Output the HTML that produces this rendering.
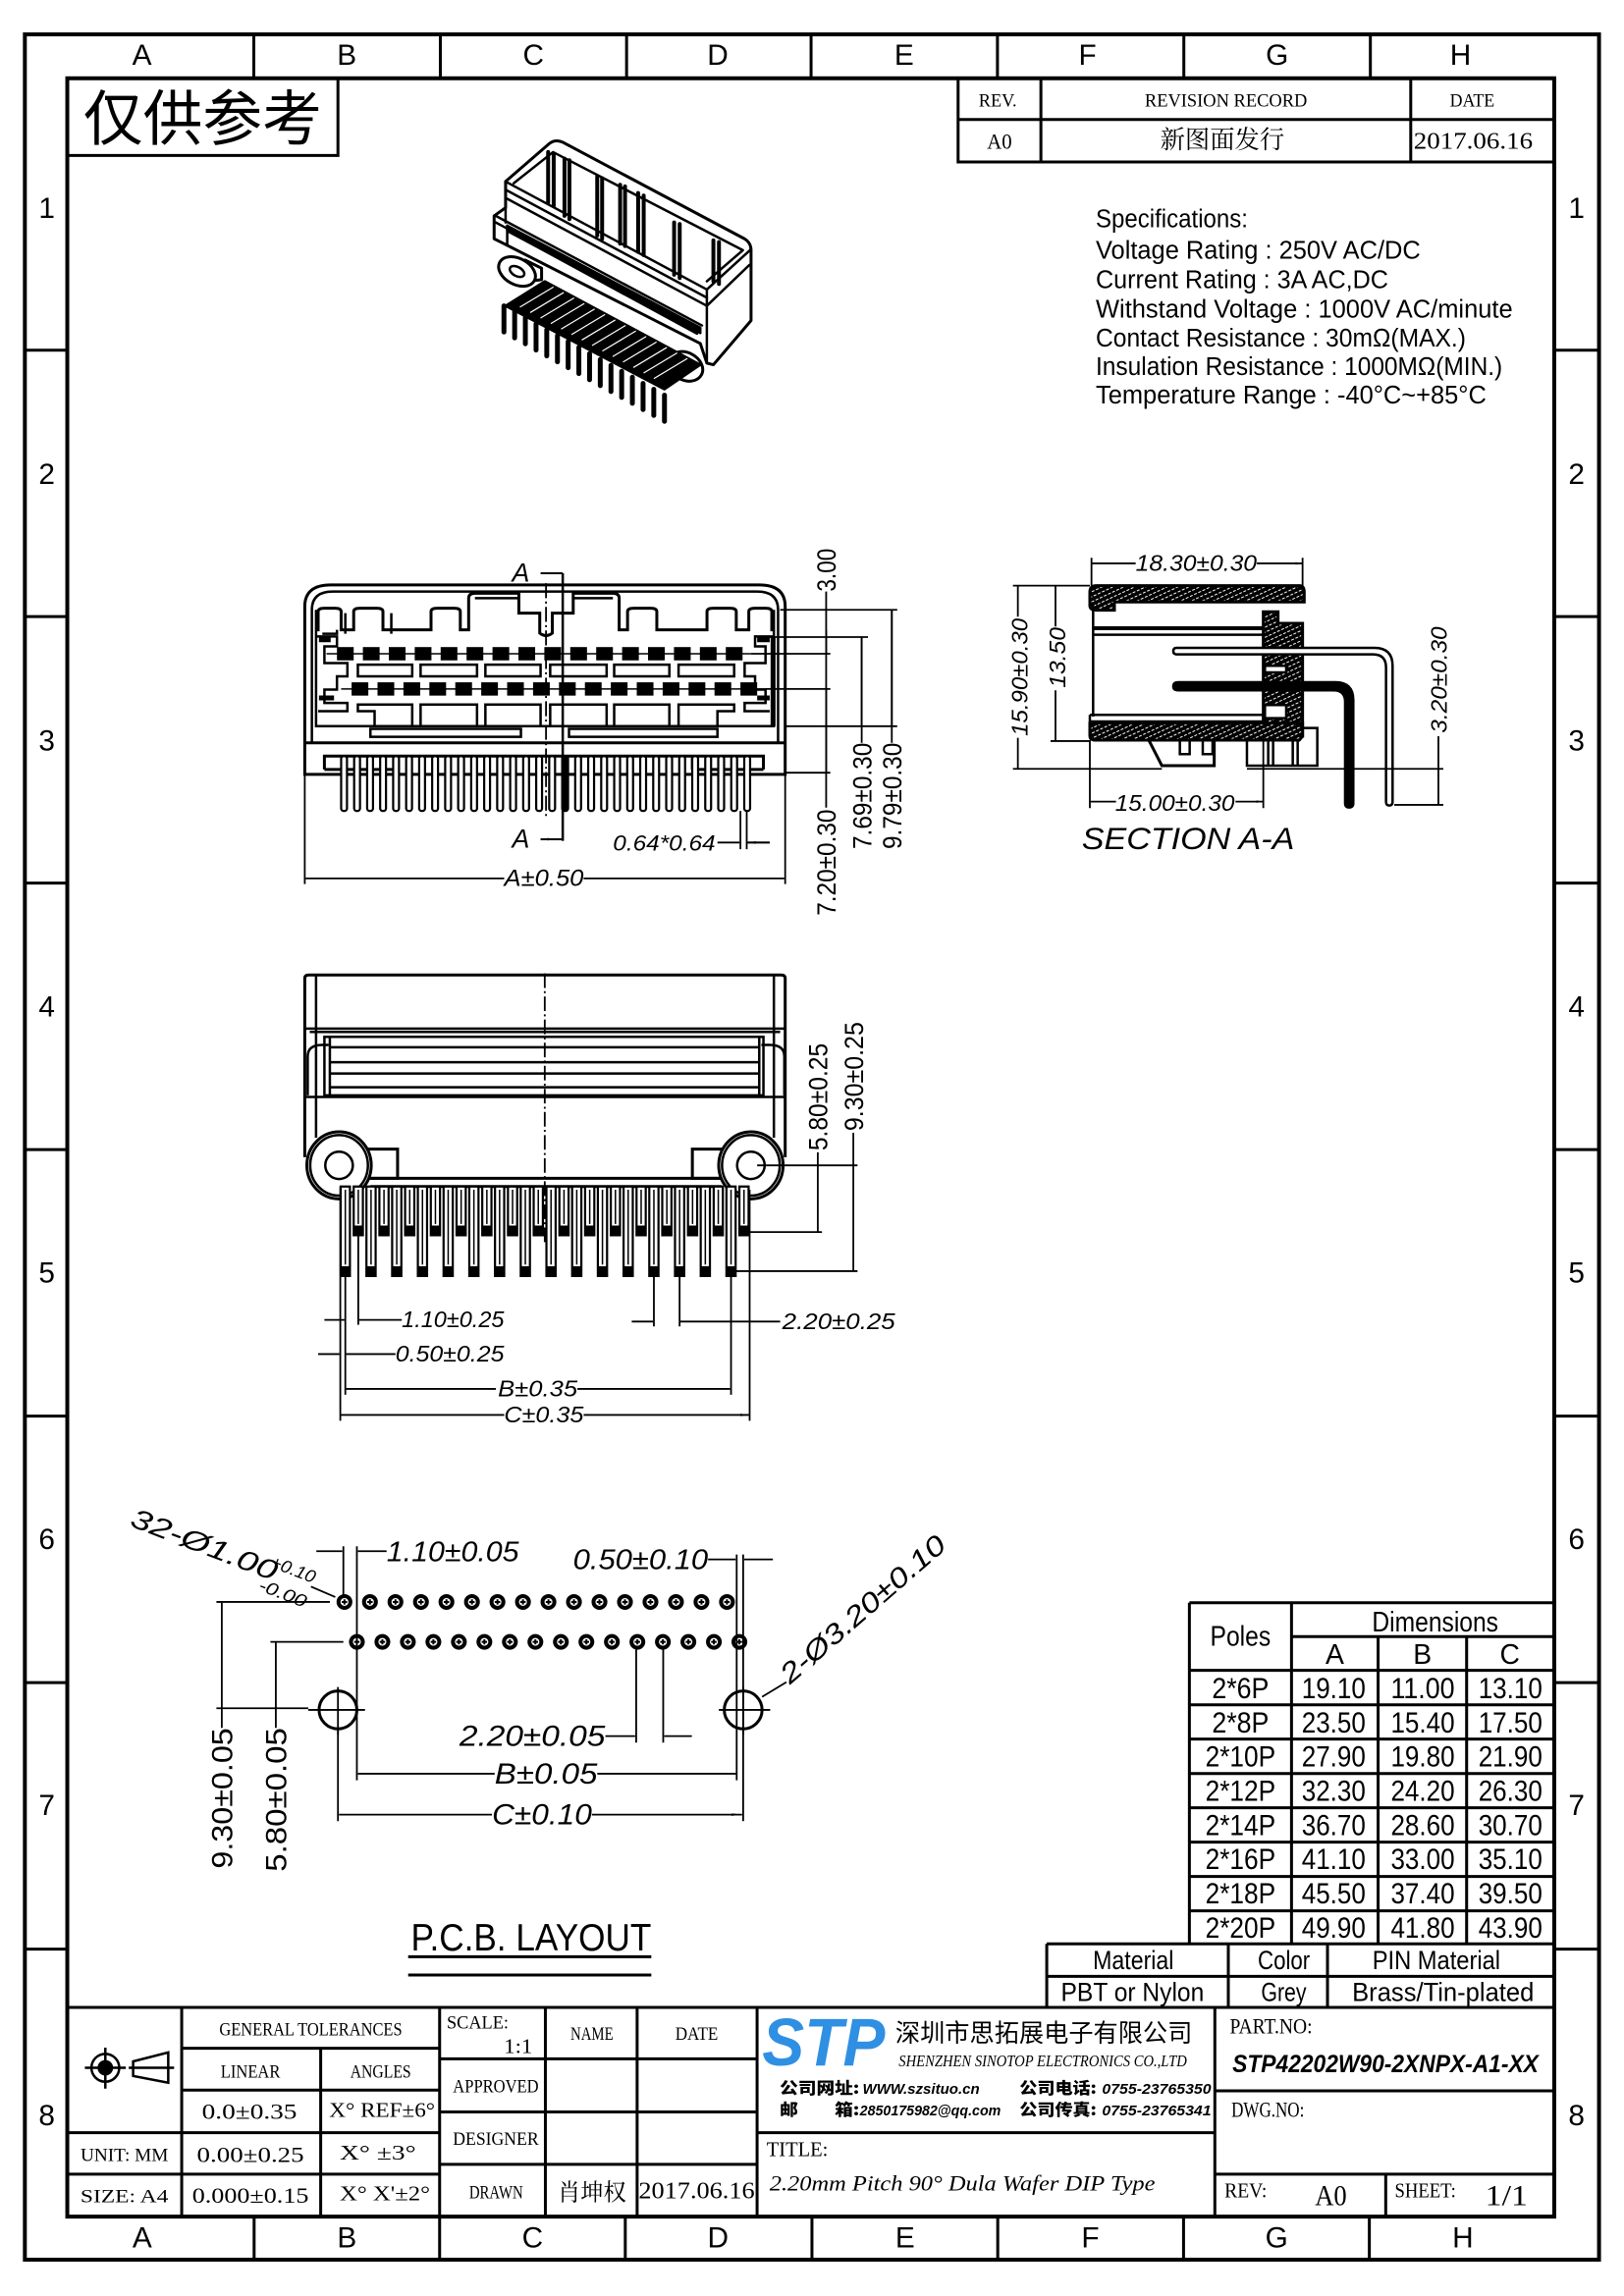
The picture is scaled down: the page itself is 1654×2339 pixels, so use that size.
<!DOCTYPE html>
<html><head><meta charset="utf-8"><title>STP42202W90-2XNPX-A1-XX</title>
<style>
html,body{margin:0;padding:0;background:#fff}
svg{display:block}
.ns,.ns *{vector-effect:non-scaling-stroke}
text{font-family:"Liberation Sans","Noto Sans CJK SC",sans-serif;fill:#000;stroke:none}
.it,.it text{font-style:italic}
.sf,.sf text,text.sf{font-family:"Liberation Serif","Noto Serif CJK SC",serif}
.cjk,text.cjk{font-family:"Noto Sans CJK SC","WenQuanYi Zen Hei",sans-serif}
</style></head><body>
<svg xmlns="http://www.w3.org/2000/svg" width="1654" height="2339" viewBox="0 0 1110.07 1569.8">
<defs>
<marker id="ar" viewBox="0 0 20 8" refX="20" refY="4" markerWidth="20" markerHeight="8" markerUnits="userSpaceOnUse" orient="auto"><path d="M0,0L20,4L0,8z" fill="#000"/></marker>
<pattern id="hatch" patternUnits="userSpaceOnUse" width="14" height="14" patternTransform="rotate(-25)"><rect width="14" height="14" fill="#000"/><path d="M0,7H9" stroke="#fff" stroke-width="3"/></pattern>
</defs>
<rect width="1110.07" height="1569.8" fill="#fff"/>

<!-- FRAME -->
<g class="ns" fill="none" stroke="#000">
<rect x="17" y="23.5" width="1076" height="1521.5" stroke-width="4"/>
<rect x="46" y="53.5" width="1016.4" height="1462" stroke-width="4"/>
<path stroke-width="3" d="M173.5,23.5V53.5M301,23.5V53.5M428.3,23.5V53.5M554.4,23.5V53.5M681.8,23.5V53.5M809.2,23.5V53.5M936.7,23.5V53.5M173.7,1515.5V1545M300.5,1515.5V1545M427.4,1515.5V1545M555,1515.5V1545M682,1515.5V1545M809,1515.5V1545M936,1515.5V1545M17,239.4H46M17,421.6H46M17,603.8H46M17,786H46M17,968.2H46M17,1150.4H46M17,1332.6H46M1062.4,239.4H1093M1062.4,421.6H1093M1062.4,603.8H1093M1062.4,786H1093M1062.4,968.2H1093M1062.4,1150.4H1093M1062.4,1332.6H1093"/>
</g>
<g font-size="20" text-anchor="middle">
<text x="97" y="44.2">A</text><text x="237" y="44.2">B</text><text x="364.6" y="44.2">C</text><text x="490.6" y="44.2">D</text><text x="618" y="44.2">E</text><text x="743.4" y="44.2">F</text><text x="873" y="44.2">G</text><text x="998.3" y="44.2">H</text>
<text x="97.2" y="1536.5">A</text><text x="237.1" y="1536.5">B</text><text x="364" y="1536.5">C</text><text x="490.8" y="1536.5">D</text><text x="618.7" y="1536.5">E</text><text x="745.3" y="1536.5">F</text><text x="872.6" y="1536.5">G</text><text x="999.9" y="1536.5">H</text>
<text x="32" y="149">1</text><text x="32" y="331">2</text><text x="32" y="513">3</text><text x="32" y="695">4</text><text x="32" y="877">5</text><text x="32" y="1059">6</text><text x="32" y="1241">7</text><text x="32" y="1453">8</text>
<text x="1077.6" y="149">1</text><text x="1077.6" y="331">2</text><text x="1077.6" y="513">3</text><text x="1077.6" y="695">4</text><text x="1077.6" y="877">5</text><text x="1077.6" y="1059">6</text><text x="1077.6" y="1241">7</text><text x="1077.6" y="1453">8</text>
</g>

<!-- 仅供参考 -->
<rect class="ns" x="46" y="53.5" width="185" height="52.8" fill="none" stroke="#000" stroke-width="3"/>
<text class="cjk" x="57" y="95.5" font-size="41" textLength="163" lengthAdjust="spacingAndGlyphs">仅供参考</text>

<!-- Revision table -->
<path class="ns" fill="none" stroke="#000" stroke-width="3" d="M654.9,53.5V110.7H1062.4M654.9,81.7H1062.4M711.5,53.5V110.7M964.3,53.5V110.7"/>
<g class="sf" text-anchor="middle">
<text x="682" y="72.7" font-size="13" textLength="26" lengthAdjust="spacingAndGlyphs">REV.</text>
<text x="838" y="72.7" font-size="13" textLength="111" lengthAdjust="spacingAndGlyphs">REVISION RECORD</text>
<text x="1006.3" y="72.7" font-size="13" textLength="30.6" lengthAdjust="spacingAndGlyphs">DATE</text>
<text x="683.2" y="101.8" font-size="15" textLength="17" lengthAdjust="spacingAndGlyphs">A0</text>
<text x="835.5" y="101.5" font-size="17" textLength="85" lengthAdjust="spacingAndGlyphs">新图面发行</text>
<text x="1007" y="101.8" font-size="16" textLength="81.4" lengthAdjust="spacingAndGlyphs">2017.06.16</text>
</g>

<!-- Specifications -->
<g font-size="17.5">
<text x="749" y="155.5" textLength="104" lengthAdjust="spacingAndGlyphs">Specifications:</text>
<text x="749" y="176.7" textLength="222" lengthAdjust="spacingAndGlyphs">Voltage Rating : 250V AC/DC</text>
<text x="749" y="196.9" textLength="200" lengthAdjust="spacingAndGlyphs">Current Rating : 3A AC,DC</text>
<text x="749" y="217" textLength="285" lengthAdjust="spacingAndGlyphs">Withstand Voltage : 1000V AC/minute</text>
<text x="749" y="237" textLength="253" lengthAdjust="spacingAndGlyphs">Contact Resistance : 30mΩ(MAX.)</text>
<text x="749" y="256.5" textLength="278" lengthAdjust="spacingAndGlyphs">Insulation Resistance : 1000MΩ(MIN.)</text>
<text x="749" y="276" textLength="267" lengthAdjust="spacingAndGlyphs">Temperature Range : -40°C~+85°C</text>
</g>

<!-- 3D view -->
<g class="ns" transform="matrix(0.2237,0,0,0.2237,322.1,87.2)" fill="none" stroke="#000" stroke-width="2.5" stroke-linecap="round" stroke-linejoin="round">
<path fill="#fff" stroke-width="3" d="M105,165 L240,48 Q258,35 280,45 L835,340 Q855,352 855,375 L855,590 L740,725 L720,720 L700,660 L110,360 L70,340 L70,270 L105,245 Z"/>
<path d="M105,165 L720,495 L855,372"/>
<path d="M105,190 L720,520 M105,215 L720,545 M105,165 V290"/>
<path d="M130,170 L250,75 L830,375 L720,470"/>
<path d="M720,495 V720 M720,545 L850,420"/>
<path d="M75,270 L705,605 M75,290 L700,625 M110,315 L690,630 M70,270 V340 L110,360 M110,300 V360"/>
<path fill="#000" d="M110,300 L700,612 L700,628 L110,316 Z"/>
<path stroke-width="4" d="M235,75V230M252,80V240M285,95V270M300,100V280M385,150V330M400,155V340M455,175V355M470,180V362M510,200V380M527,208V390M620,290V450M637,295V460M740,345V470M757,350V478"/>
<path fill="#fff" stroke-width="3" d="M165,405 L215,430 L215,465 L175,470 Z"/>
<ellipse cx="140" cy="440" rx="60" ry="40" transform="rotate(28 140 440)" fill="#fff" stroke-width="3"/>
<ellipse cx="140" cy="440" rx="24" ry="14" transform="rotate(28 140 440)"/>
<ellipse cx="655" cy="730" rx="55" ry="42" transform="rotate(28 655 730)" fill="#fff" stroke-width="3"/>
<ellipse cx="655" cy="730" rx="22" ry="14" transform="rotate(28 655 730)"/>
<path fill="#000" d="M105,545 L225,470 L700,725 L590,800 Z"/>
<path stroke="#fff" stroke-width="1.2" d="M250,488L150,548M281.5,504.8L181.5,564.8M313,521.6L213,581.6M344.5,538.4L244.5,598.4M376,555.2L276,615.2M407.5,572L307.5,632M439,588.8L339,648.8M470.5,605.6L370.5,665.6M502,622.4L402,682.4M533.5,639.2L433.5,699.2M565,656L465,716M596.5,672.8L496.5,732.8M628,689.6L528,749.6M659.5,706.4L559.5,766.4"/>
<path stroke-width="5" d="M100,545V625M132.7,563V643M165.4,581V661M198.1,600V680M230.8,618V698M263.5,636V716M296.2,654V734M328.9,672V752M361.6,691V771M394.3,709V789M427,727V807M459.7,745V825M492.4,763V843M525.1,782V862M557.8,800V880M590.5,818V898"/>
</g>

<!-- FRONT VIEW -->
<g class="ns" transform="matrix(0.2858,0,0,0.2273,194.6,362.4)" fill="none" stroke="#000" stroke-width="2.5">
<path stroke-width="3" d="M48,735 V230 Q48,165 110,165 H1135 Q1197,165 1197,230 V735 Z"/>
<path d="M65,640 V240 Q65,185 115,185 H1130 Q1180,185 1180,240 V640"/>
<path stroke-width="3" d="M48,640 H1197"/>
<path d="M75,240 V590 H1170 V240"/>
<path stroke-width="3" d="M75,300 H80 V245 Q80,235 95,235 H120 Q135,235 135,245 V300 H165 V245 Q165,235 180,235 H220 Q235,235 235,245 V300 H350 V245 Q350,235 365,235 H405 Q420,235 420,245 V300 H440 V205 Q440,190 455,190 H560 V250 H610 V310 Q625,325 640,310 V250 H690 V190 H785 Q800,190 800,205 V300 H820 V245 Q820,235 835,235 H875 Q890,235 890,245 V300 H1010 V245 Q1010,235 1025,235 H1065 Q1080,235 1080,245 V300 H1110 V245 Q1110,235 1125,235 H1150 Q1165,235 1165,245 V300 H1170"/>
<path d="M90,312 H125 V300 M145,312 V250 M255,312 V250 M560,190 V250 M690,190 V250 M455,205 H560 M690,205 H785"/>
<path d="M75,320 H125 V350 H95 V400 H150 V440 H125 V480 H95 V520 H150 V545 H80"/>
<path d="M1170,320 H1125 V350 H1150 V400 H1100 V440 H1125 V480 H1150 V520 H1100 V545 H1160"/>
<path stroke-width="5" d="M1168,320 V590 M82,330 H110 M82,505 H118 M1130,330 H1160 M1130,505 H1160"/>
<path stroke-width="1.5" d="M100,372H1115M135,478H1150"/>
<g fill="#000" stroke="none">
<rect x="125" y="352" width="40" height="40"/><rect x="187" y="352" width="40" height="40"/><rect x="249" y="352" width="40" height="40"/><rect x="311" y="352" width="40" height="40"/><rect x="373" y="352" width="40" height="40"/><rect x="435" y="352" width="40" height="40"/><rect x="497" y="352" width="40" height="40"/><rect x="559" y="352" width="40" height="40"/><rect x="621" y="352" width="40" height="40"/><rect x="683" y="352" width="40" height="40"/><rect x="745" y="352" width="40" height="40"/><rect x="807" y="352" width="40" height="40"/><rect x="869" y="352" width="40" height="40"/><rect x="931" y="352" width="40" height="40"/><rect x="993" y="352" width="40" height="40"/><rect x="1055" y="352" width="40" height="40"/>
<rect x="160" y="458" width="40" height="40"/><rect x="222" y="458" width="40" height="40"/><rect x="284" y="458" width="40" height="40"/><rect x="346" y="458" width="40" height="40"/><rect x="408" y="458" width="40" height="40"/><rect x="470" y="458" width="40" height="40"/><rect x="532" y="458" width="40" height="40"/><rect x="594" y="458" width="40" height="40"/><rect x="656" y="458" width="40" height="40"/><rect x="718" y="458" width="40" height="40"/><rect x="780" y="458" width="40" height="40"/><rect x="842" y="458" width="40" height="40"/><rect x="904" y="458" width="40" height="40"/><rect x="966" y="458" width="40" height="40"/><rect x="1028" y="458" width="40" height="40"/><rect x="1090" y="458" width="40" height="40"/>
</g>
<rect x="175" y="405" width="130" height="35"/><rect x="325" y="405" width="135" height="35"/><rect x="480" y="405" width="132" height="35"/><rect x="635" y="405" width="135" height="35"/><rect x="788" y="405" width="132" height="35"/><rect x="942" y="405" width="133" height="35"/>
<rect x="325" y="525" width="135" height="65"/><rect x="480" y="525" width="132" height="65"/><rect x="635" y="525" width="135" height="65"/><rect x="788" y="525" width="132" height="65"/>
<path d="M175,525 H305 V590 H215 V545 H175 Z M942,525 H1075 V545 H1035 V590 H942 Z"/>
<rect x="205" y="598" width="360" height="24"/><rect x="680" y="598" width="355" height="24"/>
<path stroke-width="3" d="M95,720 V680 H1145 V720 M210,680 V720 M1040,680 V720 M270,680 V720 M975,680 V720 M95,720 H270 M975,720 H1145"/>
<g fill="#fff" stroke-width="2.2">
<rect x="135" y="680" width="14" height="165" rx="7"/><rect x="166.1" y="680" width="14" height="165" rx="7"/><rect x="197.2" y="680" width="14" height="165" rx="7"/><rect x="228.3" y="680" width="14" height="165" rx="7"/><rect x="259.4" y="680" width="14" height="165" rx="7"/><rect x="290.5" y="680" width="14" height="165" rx="7"/><rect x="321.6" y="680" width="14" height="165" rx="7"/><rect x="352.7" y="680" width="14" height="165" rx="7"/><rect x="383.8" y="680" width="14" height="165" rx="7"/><rect x="414.9" y="680" width="14" height="165" rx="7"/><rect x="446" y="680" width="14" height="165" rx="7"/><rect x="477.1" y="680" width="14" height="165" rx="7"/><rect x="508.2" y="680" width="14" height="165" rx="7"/><rect x="539.3" y="680" width="14" height="165" rx="7"/><rect x="570.4" y="680" width="14" height="165" rx="7"/><rect x="601.5" y="680" width="14" height="165" rx="7"/><rect x="632.6" y="680" width="14" height="165" rx="7"/><rect x="663.7" y="680" width="14" height="165" rx="7" fill="#000"/><rect x="694.8" y="680" width="14" height="165" rx="7"/><rect x="725.9" y="680" width="14" height="165" rx="7"/><rect x="757" y="680" width="14" height="165" rx="7"/><rect x="788.1" y="680" width="14" height="165" rx="7"/><rect x="819.2" y="680" width="14" height="165" rx="7"/><rect x="850.3" y="680" width="14" height="165" rx="7"/><rect x="881.4" y="680" width="14" height="165" rx="7"/><rect x="912.5" y="680" width="14" height="165" rx="7"/><rect x="943.6" y="680" width="14" height="165" rx="7"/><rect x="974.7" y="680" width="14" height="165" rx="7"/><rect x="1005.8" y="680" width="14" height="165" rx="7"/><rect x="1036.9" y="680" width="14" height="165" rx="7"/><rect x="1068" y="680" width="14" height="165" rx="7"/><rect x="1099.1" y="680" width="14" height="165" rx="7"/>
</g>
<path stroke-width="1.8" d="M625,160V205M625,215V221M625,231V276M625,286V292M625,302V347M625,357V363M625,373V418M625,428V434M625,444V489M625,499V505M625,515V560M625,570V576M625,586V631M625,641V647M625,657V702M625,712V718M625,728V773M625,783V789M625,799V844M625,854V860"/>
<path stroke-width="2.5" d="M665,130V935"/>
<path stroke-width="2" marker-end="url(#ar)" d="M665,130H612M665,930H612"/>
<path stroke-width="1.8" d="M1185,240H1465M1140,322H1395M1115,372H1305M1150,478H1305M1195,590H1465M1197,730H1305M1295,185V835M1380,322V640M1452,240V640M48,735V1065M1197,735V1065M1090,845V960M1105,845V960"/>
<path stroke-width="1.8" marker-end="url(#ar)" d="M1295,300V372M1295,600V478M1295,600V730M1380,450V322M1380,450V590M1452,420V240M1452,420V590M525,1048H50M715,1048H1195M1035,940H1088M1160,940H1107"/>
<path stroke-width="1.8" d="M1107,940H1160"/>
</g>
<text class="it" x="356" y="397.6" font-size="18" text-anchor="middle">A</text>
<text class="it" x="356" y="579.5" font-size="18" text-anchor="middle">A</text>
<text class="it" x="371.8" y="605.6" font-size="16" text-anchor="middle" textLength="54.3" lengthAdjust="spacingAndGlyphs">A±0.50</text>
<text class="it" x="419" y="581.7" font-size="15" textLength="70" lengthAdjust="spacingAndGlyphs">0.64*0.64</text>
<g font-size="18" text-anchor="middle">
<text transform="translate(564.7,389.7) rotate(-90)" y="6.5" textLength="29.5" lengthAdjust="spacingAndGlyphs">3.00</text>
<text transform="translate(564.7,589.7) rotate(-90)" y="6.5" textLength="72.7" lengthAdjust="spacingAndGlyphs">7.20±0.30</text>
<text transform="translate(589,544.2) rotate(-90)" y="6.5" textLength="72.7" lengthAdjust="spacingAndGlyphs">7.69±0.30</text>
<text transform="translate(609.6,544.2) rotate(-90)" y="6.5" textLength="72.7" lengthAdjust="spacingAndGlyphs">9.79±0.30</text>
</g>

<!-- SECTION A-A -->
<g class="ns" transform="matrix(0.2237,0,0,0.2237,677.85,369.1)" fill="none" stroke="#000" stroke-width="2.5">
<path stroke-width="1.8" d="M305,55V140M950,55V140"/>
<path stroke-width="1.8" marker-end="url(#ar)" d="M440,72H307M810,72H948"/>
<path fill="url(#hatch)" stroke-width="3" d="M300,160 Q300,140 320,140 H940 Q955,140 955,160 V190 H375 V215 H320 Q300,215 300,200 Z"/>
<path d="M310,190V540"/>
<path stroke-width="4" d="M310,270H830"/>
<path d="M310,290H830"/>
<path fill="url(#hatch)" stroke-width="3" d="M830,220 H875 V255 H950 V600 H830 Z"/>
<rect x="835" y="385" width="65" height="20" fill="#fff"/>
<rect x="835" y="505" width="65" height="40" fill="#fff"/>
<path d="M300,535H830M300,555H830M300,535V555"/>
<path fill="url(#hatch)" stroke-width="3" d="M300,560 H950 V600 L940,612 H315 Q300,612 300,598 Z"/>
<path stroke-width="3" d="M480,612 L520,690 H680 V612"/>
<path d="M575,612V655H605V612M645,612V655H675V612"/>
<path d="M780,612 V690 H995 V575 H950 M845,612V690M860,612V690M920,612V690M935,612V690"/>
<path fill="#fff" stroke-width="2.5" d="M555,340 Q555,330 565,330 L1170,330 Q1225,330 1225,385 L1225,800 Q1225,812 1215,812 Q1205,812 1205,800 L1205,390 Q1205,350 1165,350 L565,350 Q555,350 555,340 Z"/>
<path fill="#000" d="M570,435 L1050,435 Q1105,435 1105,490 L1105,805 Q1105,818 1092,818 Q1080,818 1080,805 L1080,495 Q1080,460 1045,460 L570,460 Q555,460 555,448 Q555,435 570,435 Z"/>
<path stroke-width="1.8" d="M65,140H300M65,700H520M780,700H1380M180,615H300M1230,810H1380M1365,600V700M300,612V820M830,600V820"/>
<path stroke-width="1.8" marker-end="url(#ar)" d="M80,235V142M80,605V698M195,265V142M195,460V613M1365,755V702M1365,755V808M380,800H302M745,800H828"/>
</g>
<g class="it">
<text x="817.7" y="390.4" font-size="15.5" text-anchor="middle" textLength="82.8" lengthAdjust="spacingAndGlyphs">18.30±0.30</text>
<text transform="translate(696.9,463) rotate(-90)" y="5.6" font-size="15.5" text-anchor="middle" textLength="80.5" lengthAdjust="spacingAndGlyphs">15.90±0.30</text>
<text transform="translate(722.6,449.6) rotate(-90)" y="5.6" font-size="15.5" text-anchor="middle" textLength="41.4" lengthAdjust="spacingAndGlyphs">13.50</text>
<text transform="translate(983.2,464.8) rotate(-90)" y="5.6" font-size="15.5" text-anchor="middle" textLength="72.7" lengthAdjust="spacingAndGlyphs">3.20±0.30</text>
<text x="803.1" y="554.3" font-size="15.5" text-anchor="middle" textLength="81.7" lengthAdjust="spacingAndGlyphs">15.00±0.30</text>
<text x="739.4" y="580.5" font-size="21" textLength="145.4" lengthAdjust="spacingAndGlyphs">SECTION A-A</text>
</g>

<!-- BOTTOM VIEW -->
<g class="ns" transform="matrix(0.2858,0,0,0.2225,194.6,657.7)" fill="none" stroke="#000" stroke-width="2.5">
<path stroke-width="3" d="M48,600 V50 Q48,40 58,40 H1187 Q1197,40 1197,50 V600"/>
<path d="M75,42V540M1170,42V540"/>
<path d="M48,205H1197M60,215H1185"/>
<rect x="95" y="230" width="1050" height="180"/>
<path d="M108,230V410M1135,230V410M108,262H1135M108,308H1135M108,343H1135M108,385H1135"/>
<path d="M55,410V290Q55,255 90,255H105M1195,410V290Q1195,255 1160,255H1140"/>
<path d="M48,415H1197"/>
<path fill="#fff" stroke-width="3" d="M160,575H270V665H160Z"/>
<path fill="#fff" stroke-width="3" d="M1085,575H975V665H1085Z"/>
<ellipse cx="130" cy="625" rx="77" ry="103" fill="#fff" stroke-width="3"/>
<ellipse cx="130" cy="625" rx="69" ry="93"/>
<ellipse cx="130" cy="625" rx="33" ry="42"/>
<ellipse cx="1115" cy="625" rx="77" ry="103" fill="#fff" stroke-width="3"/>
<ellipse cx="1115" cy="625" rx="69" ry="93"/>
<ellipse cx="1115" cy="625" rx="33" ry="42"/>
<path stroke-width="3" d="M205,665H1045M205,690H1045"/>
<g fill="#fff" stroke-width="2.2">
<rect x="134" y="690" width="22" height="275"/><rect x="195.5" y="690" width="22" height="275"/><rect x="257" y="690" width="22" height="275"/><rect x="318.5" y="690" width="22" height="275"/><rect x="380" y="690" width="22" height="275"/><rect x="441.5" y="690" width="22" height="275"/><rect x="503" y="690" width="22" height="275"/><rect x="564.5" y="690" width="22" height="275"/><rect x="626" y="690" width="22" height="275"/><rect x="687.5" y="690" width="22" height="275"/><rect x="749" y="690" width="22" height="275"/><rect x="810.5" y="690" width="22" height="275"/><rect x="872" y="690" width="22" height="275"/><rect x="933.5" y="690" width="22" height="275"/><rect x="995" y="690" width="22" height="275"/><rect x="1056.5" y="690" width="22" height="275"/>
<rect x="165" y="690" width="22" height="150"/><rect x="226.5" y="690" width="22" height="150"/><rect x="288" y="690" width="22" height="150"/><rect x="349.5" y="690" width="22" height="150"/><rect x="411" y="690" width="22" height="150"/><rect x="472.5" y="690" width="22" height="150"/><rect x="534" y="690" width="22" height="150"/><rect x="595.5" y="690" width="22" height="150"/><rect x="657" y="690" width="22" height="150"/><rect x="718.5" y="690" width="22" height="150"/><rect x="780" y="690" width="22" height="150"/><rect x="841.5" y="690" width="22" height="150"/><rect x="903" y="690" width="22" height="150"/><rect x="964.5" y="690" width="22" height="150"/><rect x="1026" y="690" width="22" height="150"/><rect x="1087.5" y="690" width="22" height="150"/>
</g>
<g fill="#000" stroke="none">
<rect x="134" y="935" width="22" height="30"/><rect x="195.5" y="935" width="22" height="30"/><rect x="257" y="935" width="22" height="30"/><rect x="318.5" y="935" width="22" height="30"/><rect x="380" y="935" width="22" height="30"/><rect x="441.5" y="935" width="22" height="30"/><rect x="503" y="935" width="22" height="30"/><rect x="564.5" y="935" width="22" height="30"/><rect x="626" y="935" width="22" height="30"/><rect x="687.5" y="935" width="22" height="30"/><rect x="749" y="935" width="22" height="30"/><rect x="810.5" y="935" width="22" height="30"/><rect x="872" y="935" width="22" height="30"/><rect x="933.5" y="935" width="22" height="30"/><rect x="995" y="935" width="22" height="30"/><rect x="1056.5" y="935" width="22" height="30"/>
<rect x="165" y="810" width="22" height="30"/><rect x="226.5" y="810" width="22" height="30"/><rect x="288" y="810" width="22" height="30"/><rect x="349.5" y="810" width="22" height="30"/><rect x="411" y="810" width="22" height="30"/><rect x="472.5" y="810" width="22" height="30"/><rect x="534" y="810" width="22" height="30"/><rect x="595.5" y="810" width="22" height="30"/><rect x="657" y="810" width="22" height="30"/><rect x="718.5" y="810" width="22" height="30"/><rect x="780" y="810" width="22" height="30"/><rect x="841.5" y="810" width="22" height="30"/><rect x="903" y="810" width="22" height="30"/><rect x="964.5" y="810" width="22" height="30"/><rect x="1026" y="810" width="22" height="30"/><rect x="1087.5" y="810" width="22" height="30"/>
</g>
<path stroke-width="1.5" d="M145,700V930M206.5,700V930M268,700V930M329.5,700V930M391,700V930M452.5,700V930M514,700V930M575.5,700V930M637,700V930M698.5,700V930M760,700V930M821.5,700V930M883,700V930M944.5,700V930M1006,700V930M1067.5,700V930M176,700V805M237.5,700V805M299,700V805M360.5,700V805M422,700V805M483.5,700V805M545,700V805M606.5,700V805M668,700V805M729.5,700V805M791,700V805M852.5,700V805M914,700V805M975.5,700V805M1037,700V805M1098.5,700V805"/>
<path stroke-width="1.8" d="M622,35V80M622,90V96M622,106V151M622,161V167M622,177V222M622,232V238M622,248V293M622,303V309M622,319V364M622,374V380M622,390V435M622,445V451M622,461V506M622,516V522M622,532V577M622,587V593M622,603V648M622,658V664M622,674V719M622,729V735M622,745V790M622,800V806M622,816V861"/>
<path stroke-width="1.8" d="M1130,625H1370M1110,830H1285M1080,950H1370M1275,585V627M1360,525V627M133,690V1410M145,965V1330M1067.5,965V1330M1112,700V1410M176,840V1115M883,965V1120M944.5,965V1120"/>
<path stroke-width="1.8" marker-end="url(#ar)" d="M1275,730V627M1275,730V828M1360,790V627M1360,790V948M95,1100H143M280,1100H178M80,1205H131M265,1205H147M830,1105H881M1185,1105H946M505,1312H147M700,1312H1065M525,1392H135M715,1392H1110"/>
</g>
<g font-size="18" text-anchor="middle">
<text transform="translate(559,750) rotate(-90)" y="6.5" textLength="73.4" lengthAdjust="spacingAndGlyphs">5.80±0.25</text>
<text transform="translate(583.3,736) rotate(-90)" y="6.5" textLength="74.5" lengthAdjust="spacingAndGlyphs">9.30±0.25</text>
</g>
<g class="it" font-size="15.5">
<text x="274.6" y="907.3" textLength="70" lengthAdjust="spacingAndGlyphs">1.10±0.25</text>
<text x="270.3" y="931" textLength="74.3" lengthAdjust="spacingAndGlyphs">0.50±0.25</text>
<text x="534.7" y="908.7" textLength="77.2" lengthAdjust="spacingAndGlyphs">2.20±0.25</text>
<text x="340.4" y="954.7" textLength="54.3" lengthAdjust="spacingAndGlyphs">B±0.35</text>
<text x="344.6" y="972.5" textLength="54.3" lengthAdjust="spacingAndGlyphs">C±0.35</text>
</g>

<!-- PCB LAYOUT -->
<g class="ns" transform="matrix(0.3693,0,0,0.2237,79.6,1024.8)" fill="none" stroke="#000" stroke-width="2.5">
<g fill="#fff" stroke-width="4">
<ellipse cx="422" cy="315" rx="11" ry="18"/><ellipse cx="469.2" cy="315" rx="11" ry="18"/><ellipse cx="516.4" cy="315" rx="11" ry="18"/><ellipse cx="563.6" cy="315" rx="11" ry="18"/><ellipse cx="610.8" cy="315" rx="11" ry="18"/><ellipse cx="658" cy="315" rx="11" ry="18"/><ellipse cx="705.2" cy="315" rx="11" ry="18"/><ellipse cx="752.4" cy="315" rx="11" ry="18"/><ellipse cx="799.6" cy="315" rx="11" ry="18"/><ellipse cx="846.8" cy="315" rx="11" ry="18"/><ellipse cx="894" cy="315" rx="11" ry="18"/><ellipse cx="941.2" cy="315" rx="11" ry="18"/><ellipse cx="988.4" cy="315" rx="11" ry="18"/><ellipse cx="1035.6" cy="315" rx="11" ry="18"/><ellipse cx="1082.8" cy="315" rx="11" ry="18"/><ellipse cx="1130" cy="315" rx="11" ry="18"/>
<ellipse cx="445" cy="437" rx="11" ry="18"/><ellipse cx="492.2" cy="437" rx="11" ry="18"/><ellipse cx="539.4" cy="437" rx="11" ry="18"/><ellipse cx="586.6" cy="437" rx="11" ry="18"/><ellipse cx="633.8" cy="437" rx="11" ry="18"/><ellipse cx="681" cy="437" rx="11" ry="18"/><ellipse cx="728.2" cy="437" rx="11" ry="18"/><ellipse cx="775.4" cy="437" rx="11" ry="18"/><ellipse cx="822.6" cy="437" rx="11" ry="18"/><ellipse cx="869.8" cy="437" rx="11" ry="18"/><ellipse cx="917" cy="437" rx="11" ry="18"/><ellipse cx="964.2" cy="437" rx="11" ry="18"/><ellipse cx="1011.4" cy="437" rx="11" ry="18"/><ellipse cx="1058.6" cy="437" rx="11" ry="18"/><ellipse cx="1105.8" cy="437" rx="11" ry="18"/><ellipse cx="1153" cy="437" rx="11" ry="18"/>
</g>
<path stroke-width="2" d="M417,315h10M422,307v16M464.2,315h10M469.2,307v16M511.4,315h10M516.4,307v16M558.6,315h10M563.6,307v16M605.8,315h10M610.8,307v16M653,315h10M658,307v16M700.2,315h10M705.2,307v16M747.4,315h10M752.4,307v16M794.6,315h10M799.6,307v16M841.8,315h10M846.8,307v16M889,315h10M894,307v16M936.2,315h10M941.2,307v16M983.4,315h10M988.4,307v16M1030.6,315h10M1035.6,307v16M1077.8,315h10M1082.8,307v16M1125,315h10M1130,307v16M440,437h10M445,429v16M487.2,437h10M492.2,429v16M534.4,437h10M539.4,429v16M581.6,437h10M586.6,429v16M628.8,437h10M633.8,429v16M676,437h10M681,429v16M723.2,437h10M728.2,429v16M770.4,437h10M775.4,429v16M817.6,437h10M822.6,429v16M864.8,437h10M869.8,429v16M912,437h10M917,429v16M959.2,437h10M964.2,429v16M1006.4,437h10M1011.4,429v16M1053.6,437h10M1058.6,429v16M1100.8,437h10M1105.8,429v16M1148,437h10M1153,429v16"/>
<ellipse cx="410" cy="645" rx="35" ry="58" stroke-width="3"/>
<ellipse cx="1160" cy="645" rx="35" ry="58" stroke-width="3"/>
<path stroke-width="1.8" d="M355,645H460M410,575V720M1115,645H1210M1160,575V720"/>
<path stroke-width="1.8" d="M420,145V300M445,145V860M1148,170V860M1160,170V985M185,315H395M185,640H355M195,640V700M285,437H420M295,640V700M962,460V745M1012,460V745M410,705V985"/>
<path stroke-width="1.8" marker-end="url(#ar)" d="M370,160H418M500,160H447M1095,185H1146M1215,185H1162M360,268L405,300M1240,560L1195,605M195,480V317M195,480V638M295,540V439M295,540V638M905,725H960M1065,725H1014M700,840H447M890,840H1148M695,965H412M880,965H1158"/>
</g>
<g class="it" font-size="19">
<text transform="translate(88,1043) rotate(21)" textLength="105.7" lengthAdjust="spacingAndGlyphs">32-Ø1.00</text>
<text transform="translate(184,1071) rotate(21)" font-size="12" textLength="32" lengthAdjust="spacingAndGlyphs">+0.10</text>
<text transform="translate(176,1087) rotate(21)" font-size="12" textLength="34" lengthAdjust="spacingAndGlyphs">-0.00</text>
<text x="264.3" y="1067.3" textLength="90.4" lengthAdjust="spacingAndGlyphs">1.10±0.05</text>
<text x="391.7" y="1072.9" textLength="92.3" lengthAdjust="spacingAndGlyphs">0.50±0.10</text>
<text transform="translate(540,1152) rotate(-41)" textLength="143" lengthAdjust="spacingAndGlyphs">2-Ø3.20±0.10</text>
<text x="314" y="1193.7" font-size="20" textLength="99.7" lengthAdjust="spacingAndGlyphs">2.20±0.05</text>
<text x="338.1" y="1219.4" font-size="20" textLength="70.2" lengthAdjust="spacingAndGlyphs">B±0.05</text>
<text x="336.3" y="1247.4" font-size="20" textLength="68.3" lengthAdjust="spacingAndGlyphs">C±0.10</text>
</g>
<g font-size="20" text-anchor="middle">
<text transform="translate(151.6,1229.5) rotate(-90)" y="7" textLength="96.2" lengthAdjust="spacingAndGlyphs">9.30±0.05</text>
<text transform="translate(188.5,1230.5) rotate(-90)" y="7" textLength="98.4" lengthAdjust="spacingAndGlyphs">5.80±0.05</text>
</g>
<text x="280.9" y="1333.5" font-size="26" textLength="164.3" lengthAdjust="spacingAndGlyphs">P.C.B. LAYOUT</text>
<path class="ns" stroke="#000" stroke-width="3" d="M279,1337.8H445.2M279,1350.3H445.2"/>

<!-- DIMENSIONS TABLE -->
<path class="ns" fill="none" stroke="#000" stroke-width="3" d="M813,1095.8H1062.4M882.8,1119H1062.4M813,1142H1062.4M813,1165.6H1062.4M813,1189H1062.4M813,1212.6H1062.4M813,1236H1062.4M813,1259.5H1062.4M813,1283H1062.4M813,1306.5H1062.4M715.5,1329H1062.4M715.5,1351.3H1062.4M813,1095.8V1329M882.8,1095.8V1329M942,1119V1329M1002.5,1119V1329M715.5,1329V1372.5M839.6,1329V1372.5M907.4,1329V1372.5"/>
<g text-anchor="middle">
<text x="847.9" y="1125.3" font-size="19" textLength="41.4" lengthAdjust="spacingAndGlyphs">Poles</text>
<text x="981" y="1115.3" font-size="19" textLength="86.3" lengthAdjust="spacingAndGlyphs">Dimensions</text>
<text x="912.4" y="1137.6" font-size="19">A</text><text x="972.3" y="1137.6" font-size="19">B</text><text x="1032" y="1137.6" font-size="19">C</text>
</g>
<g font-size="20" text-anchor="middle">
<text x="847.9" y="1161" textLength="39" lengthAdjust="spacingAndGlyphs">2*6P</text><text x="911.6" y="1161" textLength="43.7" lengthAdjust="spacingAndGlyphs">19.10</text><text x="972.5" y="1161" textLength="43.7" lengthAdjust="spacingAndGlyphs">11.00</text><text x="1032.4" y="1161" textLength="43.7" lengthAdjust="spacingAndGlyphs">13.10</text>
<text x="847.9" y="1184.4" textLength="39" lengthAdjust="spacingAndGlyphs">2*8P</text><text x="911.6" y="1184.4" textLength="43.7" lengthAdjust="spacingAndGlyphs">23.50</text><text x="972.5" y="1184.4" textLength="43.7" lengthAdjust="spacingAndGlyphs">15.40</text><text x="1032.4" y="1184.4" textLength="43.7" lengthAdjust="spacingAndGlyphs">17.50</text>
<text x="847.9" y="1207.8" textLength="48" lengthAdjust="spacingAndGlyphs">2*10P</text><text x="911.6" y="1207.8" textLength="43.7" lengthAdjust="spacingAndGlyphs">27.90</text><text x="972.5" y="1207.8" textLength="43.7" lengthAdjust="spacingAndGlyphs">19.80</text><text x="1032.4" y="1207.8" textLength="43.7" lengthAdjust="spacingAndGlyphs">21.90</text>
<text x="847.9" y="1231.2" textLength="48" lengthAdjust="spacingAndGlyphs">2*12P</text><text x="911.6" y="1231.2" textLength="43.7" lengthAdjust="spacingAndGlyphs">32.30</text><text x="972.5" y="1231.2" textLength="43.7" lengthAdjust="spacingAndGlyphs">24.20</text><text x="1032.4" y="1231.2" textLength="43.7" lengthAdjust="spacingAndGlyphs">26.30</text>
<text x="847.9" y="1254.6" textLength="48" lengthAdjust="spacingAndGlyphs">2*14P</text><text x="911.6" y="1254.6" textLength="43.7" lengthAdjust="spacingAndGlyphs">36.70</text><text x="972.5" y="1254.6" textLength="43.7" lengthAdjust="spacingAndGlyphs">28.60</text><text x="1032.4" y="1254.6" textLength="43.7" lengthAdjust="spacingAndGlyphs">30.70</text>
<text x="847.9" y="1278" textLength="48" lengthAdjust="spacingAndGlyphs">2*16P</text><text x="911.6" y="1278" textLength="43.7" lengthAdjust="spacingAndGlyphs">41.10</text><text x="972.5" y="1278" textLength="43.7" lengthAdjust="spacingAndGlyphs">33.00</text><text x="1032.4" y="1278" textLength="43.7" lengthAdjust="spacingAndGlyphs">35.10</text>
<text x="847.9" y="1301.4" textLength="48" lengthAdjust="spacingAndGlyphs">2*18P</text><text x="911.6" y="1301.4" textLength="43.7" lengthAdjust="spacingAndGlyphs">45.50</text><text x="972.5" y="1301.4" textLength="43.7" lengthAdjust="spacingAndGlyphs">37.40</text><text x="1032.4" y="1301.4" textLength="43.7" lengthAdjust="spacingAndGlyphs">39.50</text>
<text x="847.9" y="1324.8" textLength="48" lengthAdjust="spacingAndGlyphs">2*20P</text><text x="911.6" y="1324.8" textLength="43.7" lengthAdjust="spacingAndGlyphs">49.90</text><text x="972.5" y="1324.8" textLength="43.7" lengthAdjust="spacingAndGlyphs">41.80</text><text x="1032.4" y="1324.8" textLength="43.7" lengthAdjust="spacingAndGlyphs">43.90</text>
</g>
<g font-size="18" text-anchor="middle">
<text x="774.7" y="1346.3" textLength="55.2" lengthAdjust="spacingAndGlyphs">Material</text>
<text x="877.6" y="1346.3" textLength="35.7" lengthAdjust="spacingAndGlyphs">Color</text>
<text x="981.8" y="1346.3" textLength="87.5" lengthAdjust="spacingAndGlyphs">PIN Material</text>
<text x="774.1" y="1368" textLength="97.8" lengthAdjust="spacingAndGlyphs">PBT or Nylon</text>
<text x="877.5" y="1368" textLength="31" lengthAdjust="spacingAndGlyphs">Grey</text>
<text x="986.4" y="1368" textLength="124.3" lengthAdjust="spacingAndGlyphs">Brass/Tin-plated</text>
</g>

<!-- TITLE BLOCK -->
<path class="ns" fill="none" stroke="#000" stroke-width="3" d="M46,1372.5H1062.4M124.2,1372.5V1515.5M219.2,1400.4V1515.5M300.5,1372.5V1515.5M372.8,1372.5V1515.5M435.5,1372.5V1515.5M517.5,1372.5V1515.5M830.4,1372.5V1515.5M947.2,1486.5V1515.5M124.2,1400.4H300.5M124.2,1429H300.5M46,1458.1H300.5M46,1486.5H300.5M300.5,1407.6H517.5M300.5,1444H517.5M300.5,1479.8H517.5M517.5,1458.1H830.4M830.4,1429.5H1062.4M830.4,1486.5H1062.4"/>
<g class="ns" fill="none" stroke="#000" stroke-width="2.5">
<circle cx="72" cy="1413.8" r="9.5"/>
<circle cx="72" cy="1413.8" r="4.5" fill="#000"/>
<path d="M58,1413.8H86M72,1400V1428"/>
<path d="M91,1409.4V1419.4L115,1424V1403.3Z M88,1413.8H119"/>
</g>
<g class="sf" text-anchor="middle">
<text x="212.4" y="1391.5" font-size="13" textLength="125" lengthAdjust="spacingAndGlyphs">GENERAL TOLERANCES</text>
<text x="171.2" y="1420.6" font-size="13" textLength="40.7" lengthAdjust="spacingAndGlyphs">LINEAR</text>
<text x="260.2" y="1420.6" font-size="13" textLength="41.6" lengthAdjust="spacingAndGlyphs">ANGLES</text>
<text x="170.5" y="1448.5" font-size="15" textLength="65" lengthAdjust="spacingAndGlyphs">0.0±0.35</text>
<text x="261.2" y="1447.4" font-size="14" textLength="72.3" lengthAdjust="spacingAndGlyphs">X° REF±6°</text>
<text x="85" y="1477.6" font-size="13" textLength="60" lengthAdjust="spacingAndGlyphs">UNIT: MM</text>
<text x="171.2" y="1478.3" font-size="15" textLength="73.2" lengthAdjust="spacingAndGlyphs">0.00±0.25</text>
<text x="258.3" y="1476.5" font-size="14" textLength="52.1" lengthAdjust="spacingAndGlyphs">X° ±3°</text>
<text x="85" y="1505.6" font-size="13" textLength="60" lengthAdjust="spacingAndGlyphs">SIZE: A4</text>
<text x="171.2" y="1506" font-size="15" textLength="79.7" lengthAdjust="spacingAndGlyphs">0.000±0.15</text>
<text x="263.1" y="1504.4" font-size="14" textLength="61.8" lengthAdjust="spacingAndGlyphs">X° X'±2°</text>
<text x="326.5" y="1387" font-size="13" textLength="42.3" lengthAdjust="spacingAndGlyphs">SCALE:</text>
<text x="354.2" y="1403.8" font-size="14" textLength="19.5" lengthAdjust="spacingAndGlyphs">1:1</text>
<text x="404.6" y="1394.8" font-size="13" textLength="29.3" lengthAdjust="spacingAndGlyphs">NAME</text>
<text x="476.2" y="1394.8" font-size="13" textLength="29.3" lengthAdjust="spacingAndGlyphs">DATE</text>
<text x="338.9" y="1430.6" font-size="13" textLength="58.6" lengthAdjust="spacingAndGlyphs">APPROVED</text>
<text x="338.9" y="1466.4" font-size="13" textLength="58.6" lengthAdjust="spacingAndGlyphs">DESIGNER</text>
<text x="339.1" y="1502.9" font-size="13" textLength="36.8" lengthAdjust="spacingAndGlyphs">DRAWN</text>
<text x="404.6" y="1504.4" font-size="16" textLength="46.8" lengthAdjust="spacingAndGlyphs">肖坤权</text>
<text x="476.2" y="1502.9" font-size="16" textLength="79.4" lengthAdjust="spacingAndGlyphs">2017.06.16</text>
</g>
<text x="521" y="1412" font-size="46" font-weight="bold" font-style="italic" style="fill:#2f8fe3" textLength="84" lengthAdjust="spacingAndGlyphs">STP</text>
<text class="cjk" x="612" y="1396" font-size="17" textLength="203" lengthAdjust="spacingAndGlyphs">深圳市思拓展电子有限公司</text>
<text class="sf it" x="614.3" y="1412.7" font-size="11" textLength="197" lengthAdjust="spacingAndGlyphs">SHENZHEN SINOTOP ELECTRONICS CO.,LTD</text>
<g font-size="11" font-weight="bold">
<text class="cjk" x="533" y="1431.7" font-weight="900" textLength="54.5" lengthAdjust="spacingAndGlyphs">公司网址:</text>
<text class="it" x="589.6" y="1431.7" font-size="10" textLength="80" lengthAdjust="spacingAndGlyphs">WWW.szsituo.cn</text>
<text class="cjk" x="696.9" y="1431.7" font-weight="900" textLength="52.7" lengthAdjust="spacingAndGlyphs">公司电话:</text>
<text class="it" x="753.3" y="1431.7" font-size="10" textLength="74.6" lengthAdjust="spacingAndGlyphs">0755-23765350</text>
<text class="cjk" x="533" y="1446.3" font-weight="900" textLength="54.5" lengthAdjust="spacingAndGlyphs">邮　　箱:</text>
<text class="it" x="587.7" y="1446.3" font-size="10" textLength="96.4" lengthAdjust="spacingAndGlyphs">2850175982@qq.com</text>
<text class="cjk" x="696.9" y="1446.3" font-weight="900" textLength="52.7" lengthAdjust="spacingAndGlyphs">公司传真:</text>
<text class="it" x="753.3" y="1446.3" font-size="10" textLength="74.6" lengthAdjust="spacingAndGlyphs">0755-23765341</text>
</g>
<g class="sf">
<text x="524" y="1474.2" font-size="14" textLength="42" lengthAdjust="spacingAndGlyphs">TITLE:</text>
<text class="it" x="526" y="1497.7" font-size="15" textLength="263.6" lengthAdjust="spacingAndGlyphs">2.20mm Pitch 90° Dula Wafer DIP Type</text>
<text x="840.6" y="1390.4" font-size="15" textLength="56.4" lengthAdjust="spacingAndGlyphs">PART.NO:</text>
<text x="841.7" y="1447.4" font-size="15" textLength="49.8" lengthAdjust="spacingAndGlyphs">DWG.NO:</text>
<text x="837" y="1502.2" font-size="14" textLength="29" lengthAdjust="spacingAndGlyphs">REV:</text>
<text x="898.8" y="1507.8" font-size="20" textLength="21.8" lengthAdjust="spacingAndGlyphs">A0</text>
<text x="953.4" y="1502.2" font-size="14" textLength="41.8" lengthAdjust="spacingAndGlyphs">SHEET:</text>
<text x="1015.2" y="1507.8" font-size="20" textLength="29.1" lengthAdjust="spacingAndGlyphs">1/1</text>
</g>
<text x="842.4" y="1416.7" font-size="17" font-weight="bold" font-style="italic" textLength="209.2" lengthAdjust="spacingAndGlyphs">STP42202W90-2XNPX-A1-XX</text>
</svg>
</body></html>
